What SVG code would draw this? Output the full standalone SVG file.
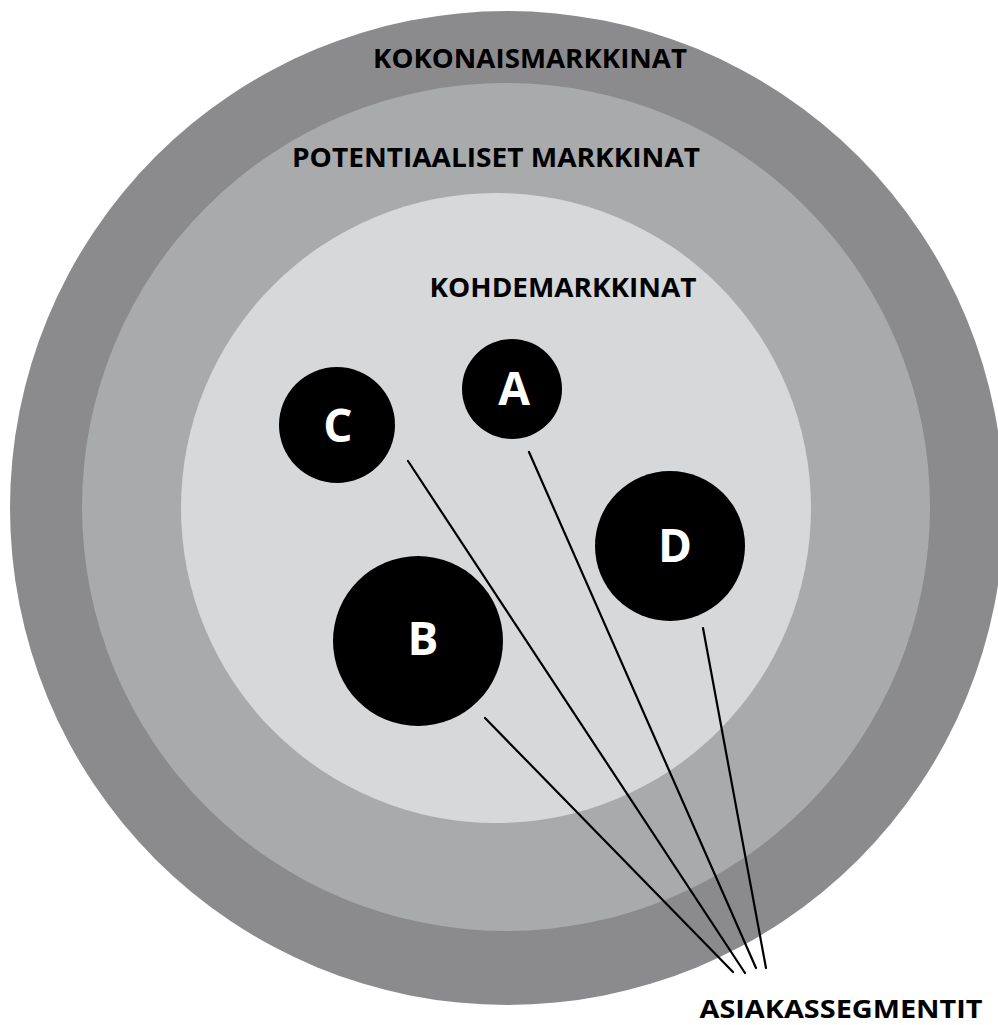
<svg xmlns="http://www.w3.org/2000/svg" width="998" height="1025" viewBox="0 0 998 1025">
  <style>
    .ring-label { font-family: "Open Sans", "Liberation Sans", sans-serif; font-weight: 700; font-size: 27px; fill: #000; text-anchor: middle; }
    .caption { font-family: "Open Sans", "Liberation Sans", sans-serif; font-weight: 700; font-size: 25px; fill: #000; text-anchor: middle; }
    .seg { fill: #000; }
    .seg-label { font-family: "Open Sans", "Liberation Sans", sans-serif; font-weight: 700; font-size: 46px; fill: #fff; text-anchor: middle; }
    .link { stroke: #000; stroke-width: 2.2; fill: none; stroke-linecap: round; }
  </style>
  <rect width="998" height="1025" fill="#fff"/>

  <!-- market rings -->
  <g id="total-market">
    <circle cx="507" cy="508" r="497" fill="#8b8b8d"/>
    <text class="ring-label" x="530" y="68" textLength="314" lengthAdjust="spacingAndGlyphs">KOKONAISMARKKINAT</text>
  </g>
  <g id="potential-market">
    <circle cx="506" cy="507" r="424" fill="#a9aaac"/>
    <text class="ring-label" x="496" y="167" textLength="408" lengthAdjust="spacingAndGlyphs">POTENTIAALISET MARKKINAT</text>
  </g>
  <g id="target-market">
    <circle cx="496" cy="508" r="315" fill="#d7d8da"/>
    <text class="ring-label" x="563" y="297" textLength="267" lengthAdjust="spacingAndGlyphs">KOHDEMARKKINAT</text>
  </g>

  <!-- lines from each segment to the caption -->
  <g id="connectors">
    <line class="link" x1="485" y1="718" x2="733" y2="972"/>
    <line class="link" x1="408" y1="461" x2="745" y2="973"/>
    <line class="link" x1="529" y1="452" x2="756" y2="968"/>
    <line class="link" x1="703" y1="628" x2="766" y2="968"/>
  </g>

  <!-- customer segments -->
  <g id="segment-a">
    <circle class="seg" cx="512" cy="389" r="50"/>
    <text class="seg-label" x="514" y="405">A</text>
  </g>
  <g id="segment-b">
    <circle class="seg" cx="418" cy="641" r="85"/>
    <text class="seg-label" x="423" y="655">B</text>
  </g>
  <g id="segment-c">
    <circle class="seg" cx="337" cy="425" r="58"/>
    <text class="seg-label" x="338" y="442">C</text>
  </g>
  <g id="segment-d">
    <circle class="seg" cx="670" cy="546" r="75"/>
    <text class="seg-label" x="675" y="562">D</text>
  </g>

  <g id="caption">
    <text class="caption" x="841" y="1018" textLength="283" lengthAdjust="spacingAndGlyphs">ASIAKASSEGMENTIT</text>
  </g>
</svg>
